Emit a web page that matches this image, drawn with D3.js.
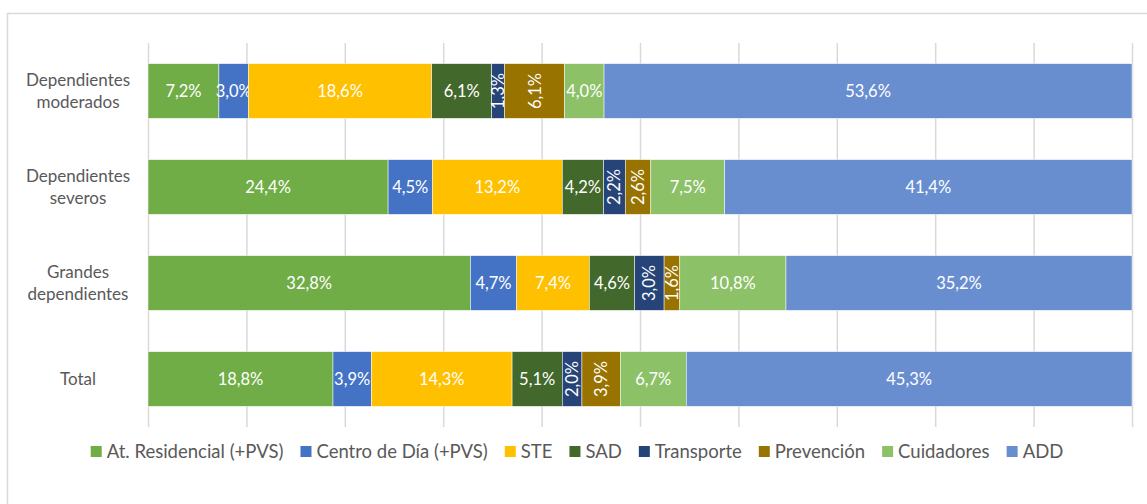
<!DOCTYPE html>
<html>
<head>
<meta charset="utf-8">
<script src="https://cdn.jsdelivr.net/npm/d3@7"></script>
<style>
  body { margin: 0; background: #fff; }
  text { font-family: Lato, "Open Sans", sans-serif; }
</style>
</head>
<body>
<div id="chart-area"></div>
<script>
// categories (top to bottom) and series
var categories = ["Dependientes moderados", "Dependientes severos", "Grandes dependientes", "Total"]
var series = ["At. Residencial (+PVS)", "Centro de Día (+PVS)", "STE", "SAD", "Transporte", "Prevención", "Cuidadores", "ADD"]
var colours = ["#70ad47", "#4472c4", "#ffc000", "#43682b", "#264478", "#997300", "#8cc168", "#698ed0"]

// percentage per series, one array for each category
var moderados = [7.2, 3.0, 18.6, 6.1, 1.3, 6.1, 4.0, 53.6]
var severos   = [24.4, 4.5, 13.2, 4.2, 2.2, 2.6, 7.5, 41.4]
var grandes   = [32.8, 4.7, 7.4, 4.6, 3.0, 1.6, 10.8, 35.2]
var total     = [18.8, 3.9, 14.3, 5.1, 2.0, 3.9, 6.7, 45.3]
var values = [moderados, severos, grandes, total]

// labels of these series are written vertically
var rotated = ["Transporte", "Prevención"]

var WIDTH = 1147
var HEIGHT = 504
var margin = {"left": 148, "right": 15, "top": 43, "bottom": 77}
var GRAPH_WIDTH = WIDTH - margin.left - margin.right
var GRAPH_HEIGHT = HEIGHT - margin.top - margin.bottom

var svg = d3.select("#chart-area").append("svg")
    .attr("width", WIDTH)
    .attr("height", HEIGHT)

// chart frame
svg.append("rect")
    .attr("x", 7.5)
    .attr("y", 13.5)
    .attr("width", 1300)
    .attr("height", 700)
    .attr("fill", "none")
    .attr("stroke", "#d9d9d9")
    .attr("stroke-width", 1.5)

var g = svg.append("g")
    .attr("transform", "translate(" + margin.left + "," + margin.top + ")")

var rows = categories.map(function(c, i){
    var row = {category: c}
    series.forEach(function(s, j){ row[s] = values[i][j] })
    return row
})

// 100% stacked, like the spreadsheet does it
var stack = d3.stack().keys(series).offset(d3.stackOffsetExpand)
var stacked = stack(rows)

var xScale = d3.scaleLinear()
    .domain([0, 1])
    .range([0, GRAPH_WIDTH])

var yScale = d3.scaleBand()
    .domain(categories)
    .range([0, GRAPH_HEIGHT])
    .paddingInner(0.43)
    .paddingOuter(0.215)

// vertical gridlines every 10%
var xAxisCall = d3.axisBottom(xScale)
    .tickValues(d3.range(0, 1.0001, 0.1))
    .tickSize(-GRAPH_HEIGHT)
    .tickFormat("")
var xAxisGroup = g.append("g")
    .attr("transform", "translate(0," + GRAPH_HEIGHT + ")")
    .call(xAxisCall)
xAxisGroup.select(".domain").remove()
xAxisGroup.selectAll("line")
    .attr("stroke", "#d9d9d9")
    .attr("stroke-width", 1.5)

// category labels on the left
var yAxisCall = d3.axisLeft(yScale).tickSize(0).tickFormat("")
var yAxisGroup = g.append("g").call(yAxisCall)
yAxisGroup.select(".domain").remove()
categories.forEach(function(c){
    var words = c.split(" ")
    var cy = yScale(c) + yScale.bandwidth() / 2
    var t = g.append("text")
        .attr("x", -70)
        .attr("text-anchor", "middle")
        .attr("fill", "#595959")
        .attr("font-size", "17px")
    words.forEach(function(w, i){
        t.append("tspan")
            .attr("x", -70)
            .attr("y", cy + 6 + (i - (words.length - 1) / 2) * 22)
            .text(w)
    })
})

var layers = g.selectAll(".layer")
    .data(stacked)
    .enter().append("g")
    .attr("class", "layer")
    .attr("fill", function(d, i){ return colours[i] })

layers.selectAll("rect")
    .data(function(d){ return d })
    .enter().append("rect")
    .attr("x", function(d){ return xScale(d[0]) })
    .attr("y", function(d){ return yScale(d.data.category) })
    .attr("width", function(d){ return xScale(d[1]) - xScale(d[0]) })
    .attr("height", yScale.bandwidth())
    .attr("stroke", "#ffffff")
    .attr("stroke-width", 0.5)

// data labels
var fmt = function(v){ return v.toFixed(1).replace(".", ",") + "%" }
layers.each(function(layer){
    var key = layer.key
    var vertical = rotated.indexOf(key) >= 0
    d3.select(this).selectAll("text")
        .data(layer)
        .enter().append("text")
        .attr("transform", function(d){
            var cx = (xScale(d[0]) + xScale(d[1])) / 2
            var cy = yScale(d.data.category) + yScale.bandwidth() / 2
            return "translate(" + cx + "," + cy + ")" + (vertical ? " rotate(-90)" : "")
        })
        .attr("dy", "0.36em")
        .attr("text-anchor", "middle")
        .attr("fill", "#ffffff")
        .attr("font-size", "16.5px")
        .text(function(d){ return fmt(d.data[key]) })
})

// legend along the bottom, centred
var legend = svg.append("g")
var legendX = 0
series.forEach(function(s, i){
    var item = legend.append("g")
    item.append("rect")
        .attr("y", -5)
        .attr("width", 11)
        .attr("height", 11)
        .attr("fill", colours[i])
    var t = item.append("text")
        .attr("x", 16)
        .attr("y", 6.5)
        .attr("fill", "#595959")
        .attr("font-size", "18.5px")
        .text(s)
    item.attr("transform", "translate(" + legendX + ",0)")
    legendX += 16 + t.node().getComputedTextLength() + 17
})
legendX -= 17
legend.attr("transform", "translate(" + (577 - legendX / 2) + ",451)")
</script>
</body>
</html>
